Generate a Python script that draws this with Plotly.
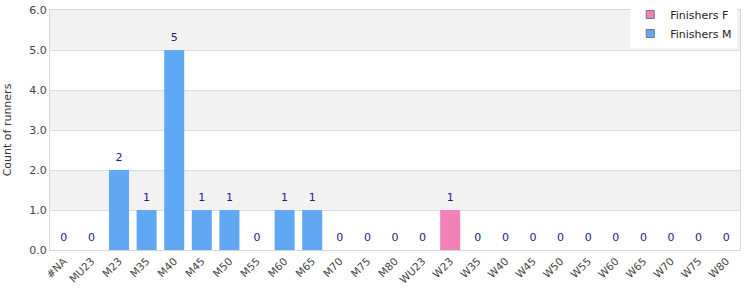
import plotly.graph_objects as go

categories = ["#NA", "MU23", "M23", "M35", "M40", "M45", "M50", "M55", "M60", "M65",
              "M70", "M75", "M80", "WU23", "W23", "W35", "W40", "W45", "W50", "W55",
              "W60", "W65", "W70", "W75", "W80"]
finishers_m = [0, 0, 2, 1, 5, 1, 1, 0, 1, 1, 0, 0, 0, 0, None, None, None, None, None, None,
               None, None, None, None, None]
finishers_f = [None, None, None, None, None, None, None, None, None, None, None, None, None,
               None, 1, 0, 0, 0, 0, 0, 0, 0, 0, 0, 0]
totals = [(m or 0) + (f or 0) for m, f in zip(finishers_m, finishers_f)]

color_f = "#f281b9"
color_m = "#60a8f4"
font = "DejaVu Sans, Verdana, sans-serif"
fig = go.Figure()
fig.add_trace(go.Bar(x=categories, y=finishers_f, name="Finishers F", showlegend=False,
                     marker=dict(color=color_f, line=dict(width=0))))
fig.add_trace(go.Bar(x=categories, y=finishers_m, name="Finishers M", showlegend=False,
                     marker=dict(color=color_m, line=dict(width=0))))
fig.add_trace(go.Scatter(x=categories, y=totals, mode="markers+text",
                         text=[str(t) for t in totals], marker=dict(size=8, opacity=0),
                         textposition="top center", showlegend=False, hoverinfo="skip",
                         textfont=dict(color="#1b1b8a", size=11, family=font),
                         cliponaxis=False))
# legend entries
for name, col in [("Finishers F", color_f), ("Finishers M", color_m)]:
    fig.add_trace(go.Scatter(x=[None], y=[None], mode="markers", name=name,
                             marker=dict(symbol="square", size=8, color=col,
                                         line=dict(color="#777", width=1))))

shapes = []
for lo in [1, 3, 5]:
    shapes.append(dict(type="rect", xref="paper", yref="y", x0=0, x1=1, y0=lo, y1=lo + 1,
                       fillcolor="#f2f2f2", line=dict(width=0), layer="below"))

fig.update_layout(
    width=750, height=300,
    margin=dict(l=50, r=10, t=10, b=50, autoexpand=False),
    barmode="relative", bargap=0.275,
    plot_bgcolor="white", paper_bgcolor="white",
    font=dict(family=font, size=11, color="#444"),
    shapes=shapes,
    legend=dict(x=0.983, y=1.005, xref="container", yref="container", xanchor="right",
                yanchor="top", bgcolor="white", font=dict(size=11, color="#222"),
                traceorder="normal", itemwidth=30, tracegroupgap=0),
    xaxis=dict(tickangle=-45, tickfont=dict(size=10.5, color="#444"), showgrid=False,
               range=[-0.5, len(categories) - 0.5],
               showline=True, linecolor="#d6d6d6", mirror=True, ticks=""),
    yaxis=dict(range=[0, 6], dtick=1, tickformat=".1f", gridcolor="#dcdcdc",
               title=dict(text="Count of runners", font=dict(size=11, color="#333")),
               zeroline=False, showline=True, linecolor="#d6d6d6", mirror=True,
               tickfont=dict(size=11, color="#444")),
)
fig.write_html("out.html")
